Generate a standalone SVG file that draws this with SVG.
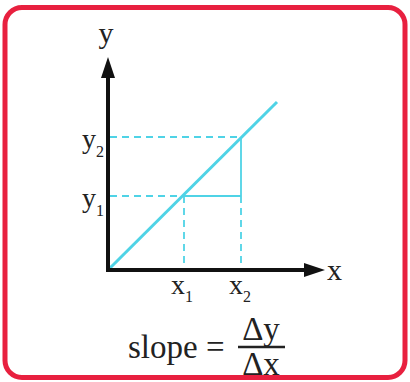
<svg xmlns="http://www.w3.org/2000/svg" width="410" height="382" viewBox="0 0 410 382">
  <style>
    .t { font-family: "Liberation Serif", "Times New Roman", serif; fill: #222; }
    .cy { stroke: #4fd3e6; fill: none; }
    .dash { stroke-dasharray: 7 5; stroke-width: 1.8; }
    .solid { stroke-width: 1.8; }
    .axis { stroke: #111; stroke-width: 4; fill: none; }
  </style>
  <rect x="0" y="0" width="410" height="382" fill="#ffffff"/>
  <rect id="frame" x="5" y="7.5" width="400" height="370" rx="17" ry="17" fill="#ffffff" stroke="#e8203f" stroke-width="5"/>

  <g id="guides">
    <line class="cy dash" x1="110" y1="137" x2="241" y2="137"/>
    <line class="cy dash" x1="110" y1="196" x2="184" y2="196"/>
    <line class="cy solid" x1="184" y1="196" x2="241" y2="196"/>
    <line class="cy solid" x1="241" y1="137" x2="241" y2="196"/>
    <line class="cy dash" x1="241" y1="196" x2="241" y2="268"/>
    <line class="cy dash" x1="184" y1="196" x2="184" y2="268"/>
  </g>

  <g id="line">
    <line class="cy" stroke-width="3" x1="108" y1="270" x2="277" y2="102"/>
  </g>

  <g id="axes">
    <polyline class="axis" points="108,76 108,270 306,270"/>
    <polygon points="108,57 101,78 115,78" fill="#111"/>
    <polygon points="325,270 304,263 304,277" fill="#111"/>
  </g>

  <g id="labels">
    <text class="t" x="106" y="43" font-size="30" text-anchor="middle">y</text>
    <text class="t" x="327" y="280" font-size="30">x</text>
    <text class="t" x="82" y="148" font-size="28">y<tspan font-size="16" dy="9">2</tspan></text>
    <text class="t" x="82" y="207" font-size="28">y<tspan font-size="16" dy="9">1</tspan></text>
    <text class="t" x="171" y="294" font-size="28">x<tspan font-size="16" dy="8">1</tspan></text>
    <text class="t" x="229" y="294" font-size="28">x<tspan font-size="16" dy="8">2</tspan></text>
  </g>

  <g id="formula">
    <text class="t" x="128" y="358" font-size="33">slope =</text>
    <text class="t" x="261" y="340" font-size="33" text-anchor="middle">Δy</text>
    <line x1="238" y1="347" x2="285" y2="347" stroke="#222" stroke-width="2.5"/>
    <text class="t" x="261" y="375" font-size="33" text-anchor="middle">Δx</text>
  </g>
</svg>
